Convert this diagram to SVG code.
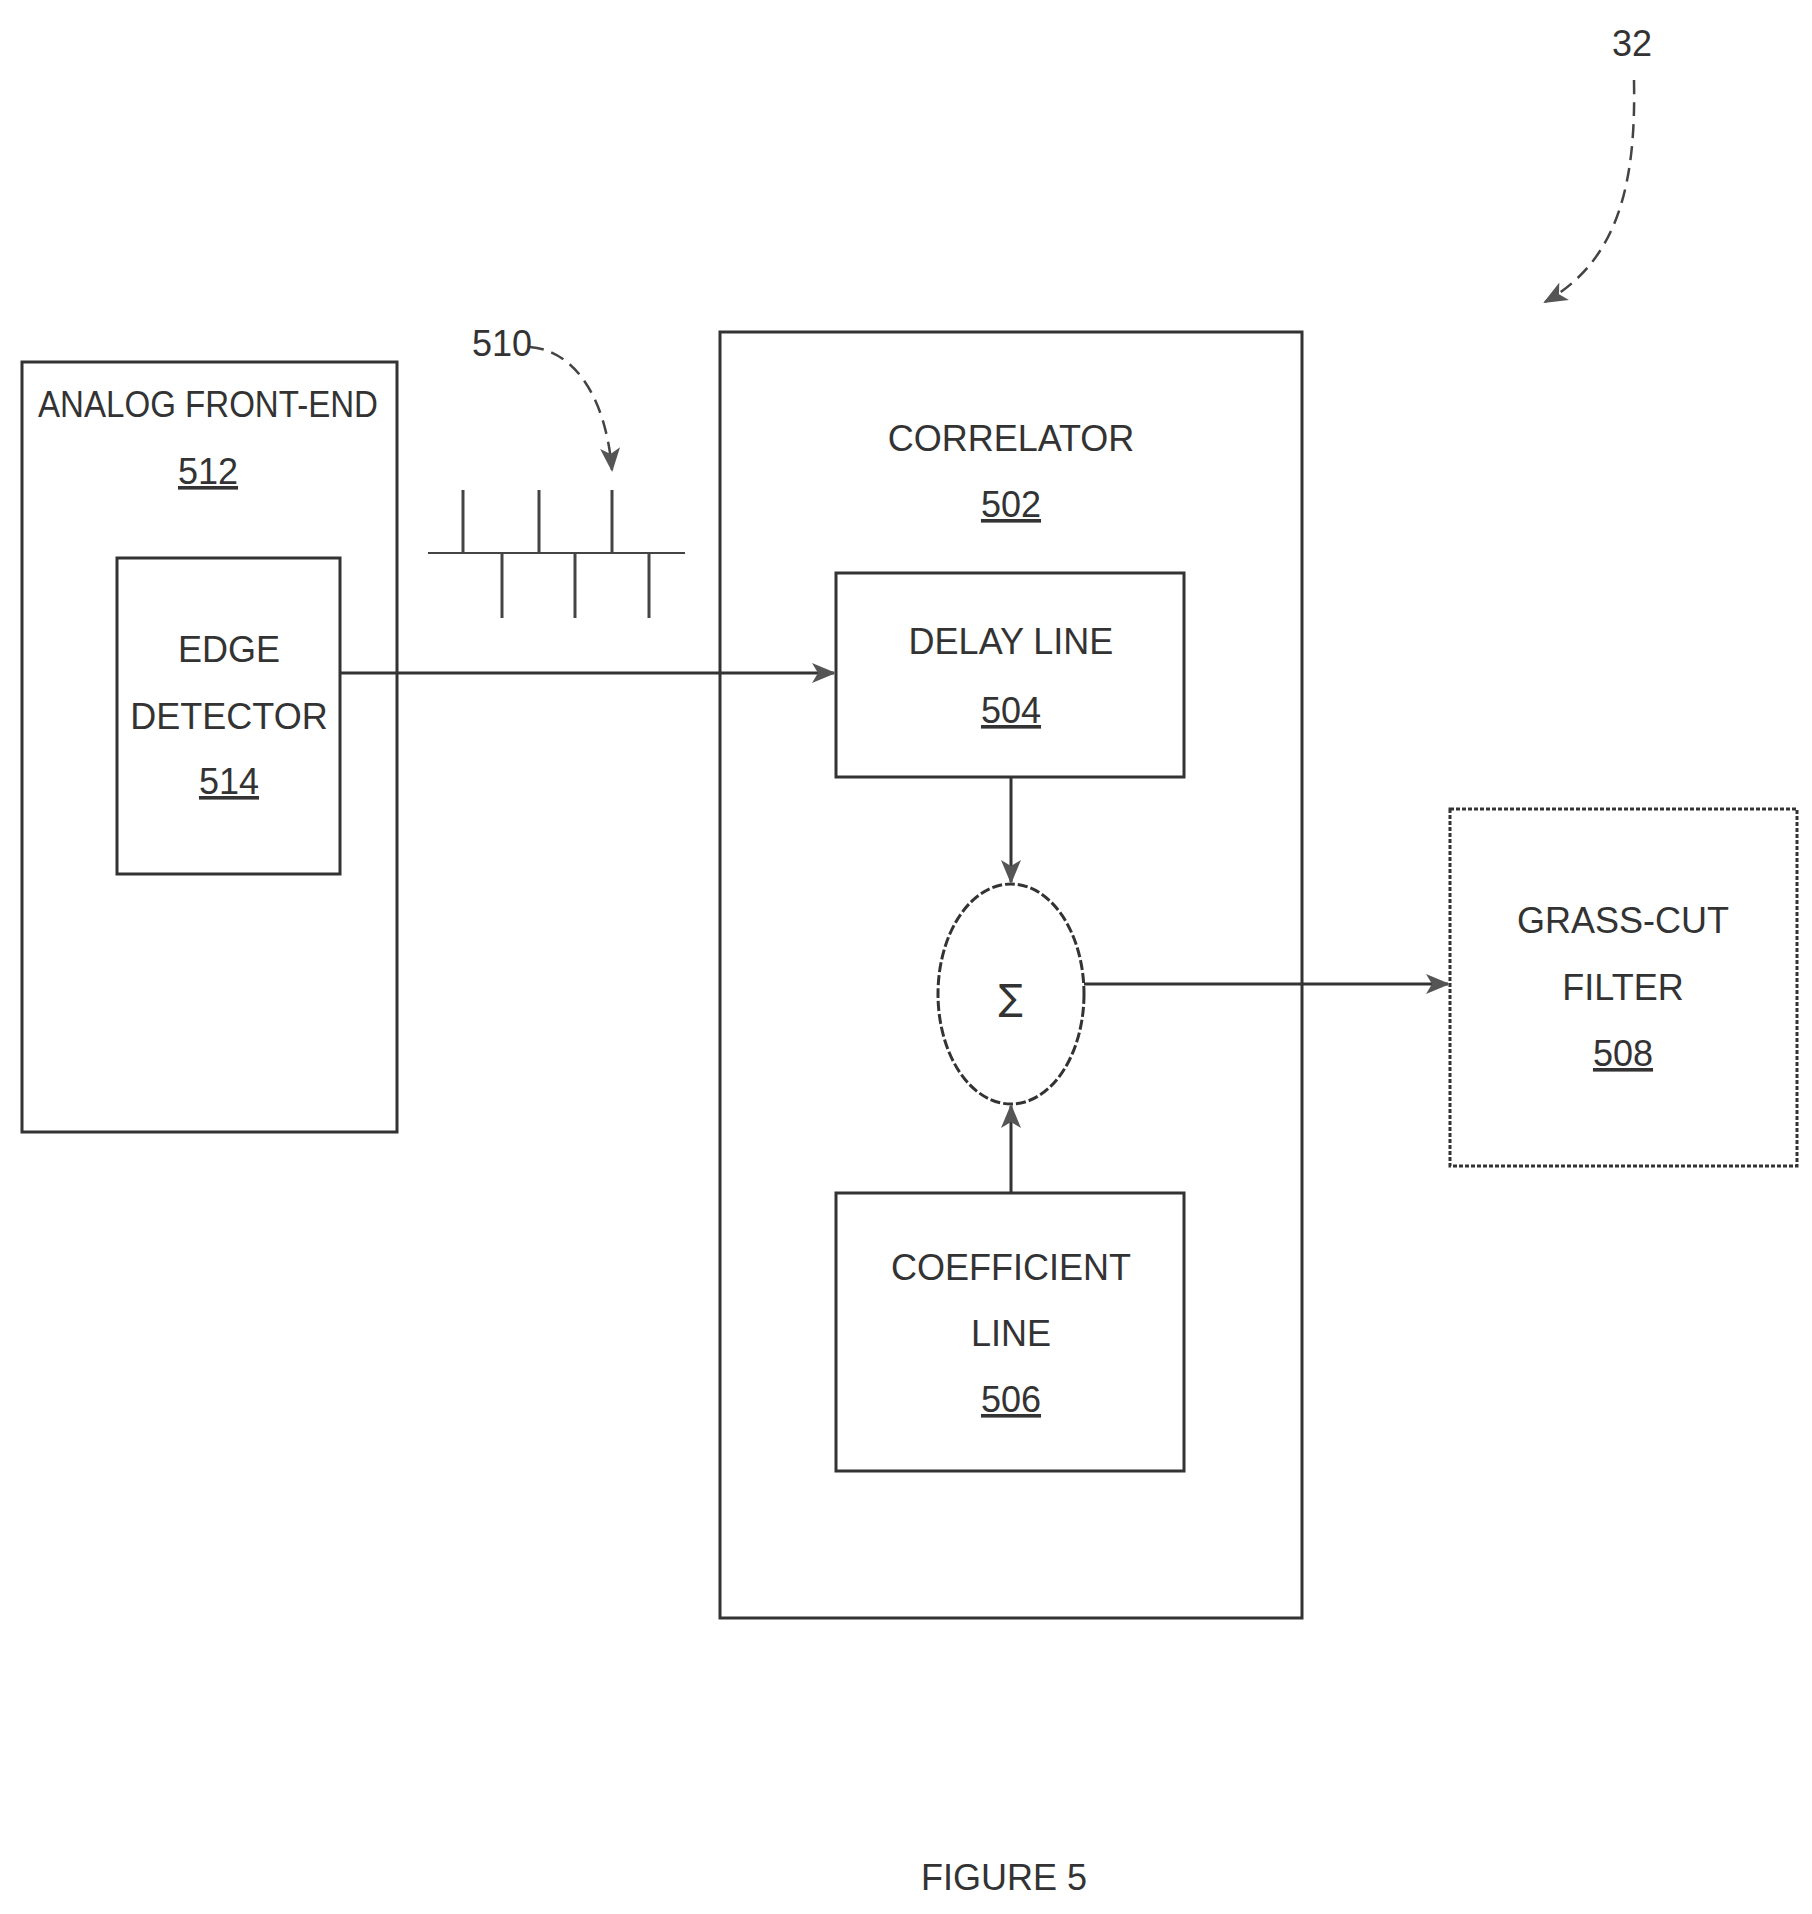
<svg xmlns="http://www.w3.org/2000/svg" width="1812" height="1914" viewBox="0 0 1812 1914">
<style>
.b{fill:none;stroke:#333;stroke-width:3}
.t{font-family:"Liberation Sans",Arial,sans-serif;font-size:36px;fill:#333;text-anchor:middle}
.u{text-decoration:underline}
.c{stroke:#333;stroke-width:3;fill:none}
.d{stroke:#444;stroke-width:2.5;fill:none;stroke-dasharray:14 8}
</style>
<defs>
<marker id="s" markerWidth="24" markerHeight="20" refX="22" refY="10" orient="auto" markerUnits="userSpaceOnUse"><path d="M0,0 L24,10 L0,20 L6,10 Z" fill="#555"/></marker>
</defs>
<rect width="1812" height="1914" fill="#fff"/>
<g id="afe"><rect class="b" x="22" y="362" width="375" height="770"/>
<text class="t" x="208" y="417" textLength="340" lengthAdjust="spacingAndGlyphs">ANALOG FRONT-END</text><text class="t u" x="208" y="484">512</text></g>
<g id="edge"><rect class="b" x="117" y="558" width="223" height="316" stroke-width="2"/>
<text class="t" x="229" y="662">EDGE</text><text class="t" x="229" y="729">DETECTOR</text><text class="t u" x="229" y="794">514</text></g>
<g id="corr"><rect class="b" x="720" y="332" width="582" height="1286"/>
<text class="t" x="1011" y="451">CORRELATOR</text><text class="t u" x="1011" y="517">502</text></g>
<g id="delay"><rect class="b" x="836" y="573" width="348" height="204" stroke-width="2"/>
<text class="t" x="1011" y="654">DELAY LINE</text><text class="t u" x="1011" y="723">504</text></g>
<g id="sum"><ellipse class="b" cx="1011" cy="994" rx="73" ry="110" stroke-width="2" stroke-dasharray="10 3"/>
<text class="t" x="1011" y="1010" style="font-family:'DejaVu Sans',sans-serif">∑</text></g>
<g id="coef"><rect class="b" x="836" y="1193" width="348" height="278" stroke-width="2"/>
<text class="t" x="1011" y="1280">COEFFICIENT</text><text class="t" x="1011" y="1346">LINE</text><text class="t u" x="1011" y="1412">506</text></g>
<g id="grass"><rect class="b" x="1450" y="809" width="347" height="357" stroke-width="2" stroke-dasharray="4 2"/>
<text class="t" x="1623" y="933">GRASS-CUT</text><text class="t" x="1623" y="1000">FILTER</text><text class="t u" x="1623" y="1066">508</text></g>
<g id="signal" stroke="#444" stroke-width="3">
<line x1="428" y1="553" x2="685" y2="553" stroke-width="2"/>
<line x1="463" y1="490" x2="463" y2="553"/><line x1="539" y1="490" x2="539" y2="553"/><line x1="612" y1="490" x2="612" y2="553"/>
<line x1="502" y1="553" x2="502" y2="618"/><line x1="575" y1="553" x2="575" y2="618"/><line x1="649" y1="553" x2="649" y2="618"/>
</g>
<g id="connectors">
<line class="c" x1="340" y1="673" x2="834" y2="673" marker-end="url(#s)"/>
<line class="c" x1="1011" y1="777" x2="1011" y2="882" stroke-width="2" marker-end="url(#s)"/>
<line class="c" x1="1011" y1="1193" x2="1011" y2="1106" stroke-width="2" marker-end="url(#s)"/>
<line class="c" x1="1084" y1="984" x2="1448" y2="984" marker-end="url(#s)"/>
<path class="d" d="M530,347 C570,350 605,390 612,470" marker-end="url(#s)"/>
<path class="d" d="M1634,80 C1636,180 1620,260 1545,302" marker-end="url(#s)"/>
</g>
<text class="t" x="502" y="356">510</text>
<text class="t" x="1632" y="56">32</text>
<text class="t" x="1004" y="1890">FIGURE 5</text>
</svg>
